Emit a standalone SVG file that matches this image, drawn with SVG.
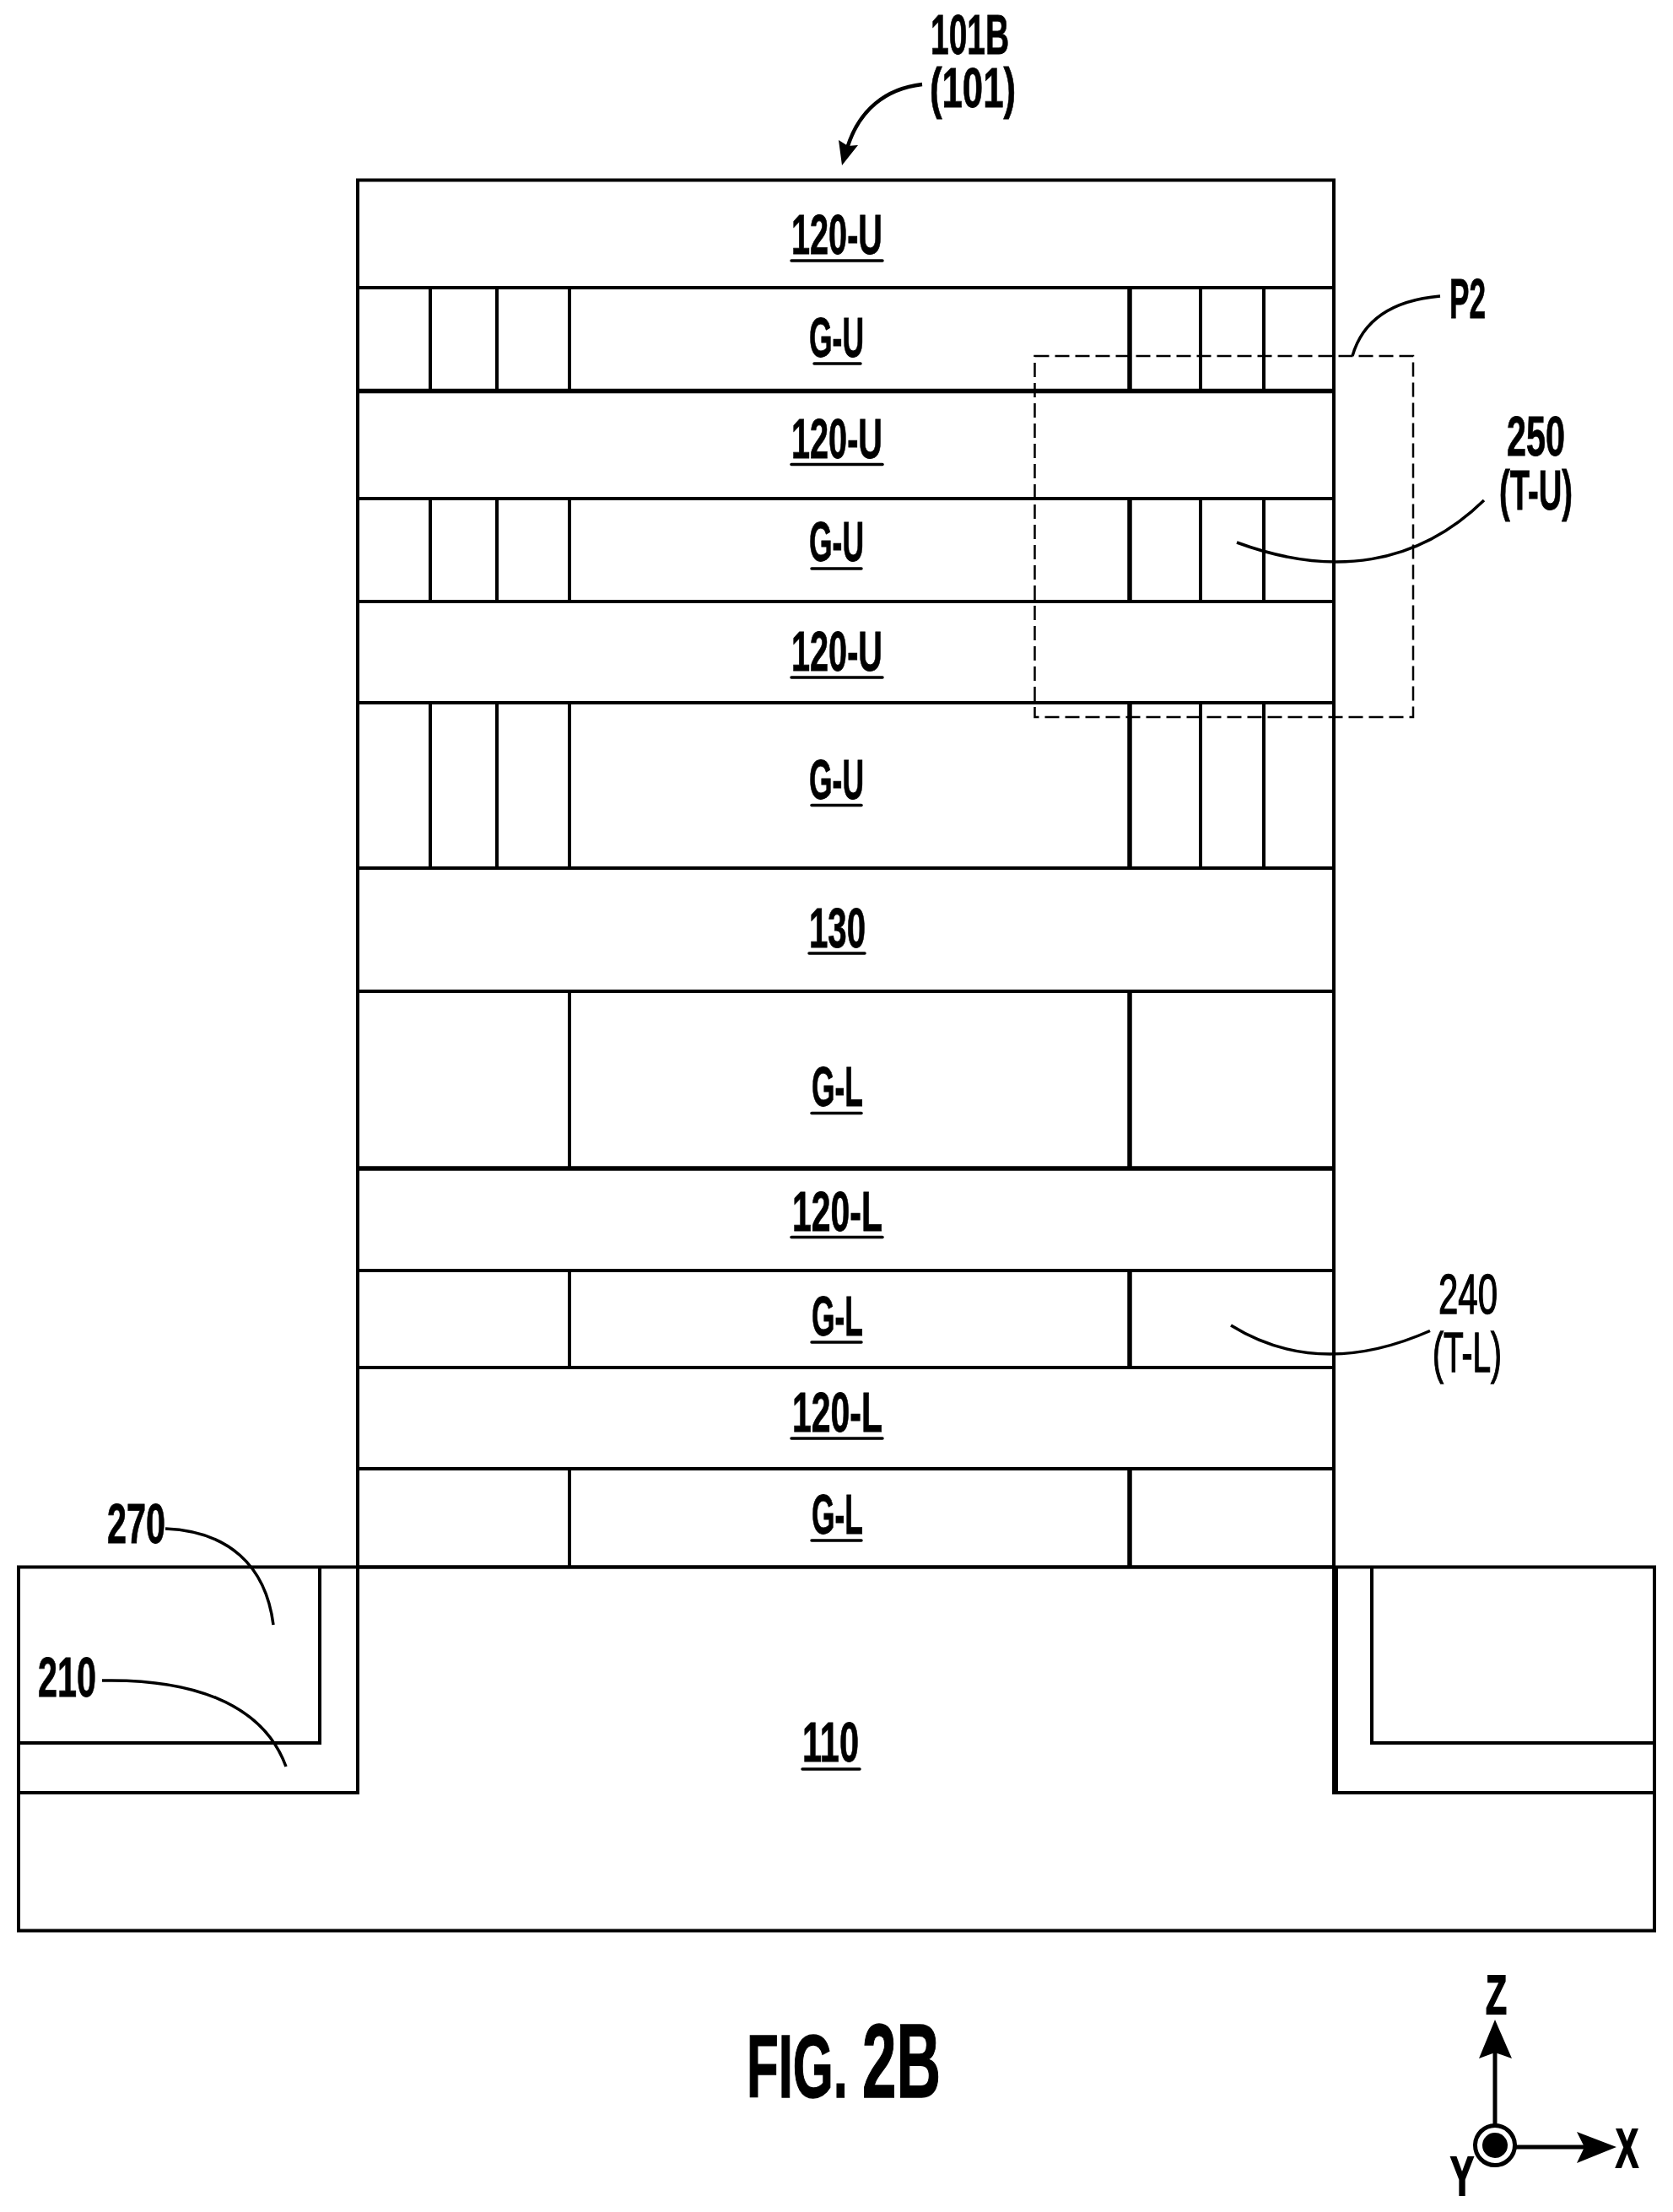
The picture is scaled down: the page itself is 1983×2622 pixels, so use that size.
<svg xmlns="http://www.w3.org/2000/svg" width="1983" height="2622" viewBox="0 0 1983 2622">
<style>
text{font-family:"Liberation Sans",Arial,sans-serif;font-weight:700;font-size:66px;fill:#000;stroke:#000;stroke-width:.8}
text.reg{font-weight:400;stroke-width:1.4}
text.ax{font-size:64px;stroke-width:2}
.ln{stroke:#000;stroke-width:4;fill:none}
.th{stroke:#000;stroke-width:5.5;fill:none}
.ul{stroke:#000;stroke-width:3.5;fill:none;stroke-linecap:round}
.lead{stroke:#000;stroke-width:3.5;fill:none}
.dash{stroke:#000;stroke-width:2.5;fill:none;stroke-dasharray:17 7}
</style>
<rect width="1983" height="2622" fill="#fff"/>
<g id="substrate">
<path class="ln" d="M22 1857.5H1961V2288.5H22Z"/>
<path class="ln" d="M22 2125H424V1857.5"/>
<path class="ln" d="M22 2066H379V1857.5"/>
<path class="ln" d="M1961 2125H1583"/>
<path class="ln" d="M1961 2066H1626V1857.5"/>
<path d="M1579 1857.5H1586V2127H1579Z" fill="#000"/>
<text x="951" y="2087.5" textLength="67" lengthAdjust="spacingAndGlyphs">110</text>
<path class="ul" d="M951 2097H1019"/>
</g>
<g id="stack">
<path class="ln" d="M424 213.5H1581V1857.5H424Z"/>
<path class="ln" d="M424 341H1581M424 591H1581M424 713H1581M424 833H1581M424 1029H1581M424 1175H1581M424 1506H1581M424 1621H1581M424 1741H1581"/>
<path class="th" d="M424 463.5H1581M424 1385H1581"/>
</g>
<g id="gates">
<path class="ln" d="M510 341V463M589 341V463M675 341V463M1423 341V463M1498 341V463"/>
<path class="ln" d="M510 591V713M589 591V713M675 591V713M1423 591V713M1498 591V713"/>
<path class="ln" d="M510 833V1029M589 833V1029M675 833V1029M1423 833V1029M1498 833V1029"/>
<path class="ln" d="M675 1175V1385M675 1506V1621M675 1741V1857.5"/>
<path class="th" d="M1339 341V463M1339 591V713M1339 833V1029M1339 1175V1385M1339 1506V1621M1339 1741V1857.5"/>
</g>
<g id="layer-labels">
<text x="938" y="300.5" textLength="108" lengthAdjust="spacingAndGlyphs">120-U</text><path class="ul" d="M938 309H1046"/>
<text x="959" y="423" textLength="65" lengthAdjust="spacingAndGlyphs">G-U</text><path class="ul" d="M965 431H1020"/>
<text x="938" y="542.5" textLength="108" lengthAdjust="spacingAndGlyphs">120-U</text><path class="ul" d="M938 550.5H1046"/>
<text x="959" y="665" textLength="65" lengthAdjust="spacingAndGlyphs">G-U</text><path class="ul" d="M962 674H1021"/>
<text x="938" y="795" textLength="108" lengthAdjust="spacingAndGlyphs">120-U</text><path class="ul" d="M938 803H1046"/>
<text x="959" y="946.5" textLength="65" lengthAdjust="spacingAndGlyphs">G-U</text><path class="ul" d="M962 954.5H1021"/>
<text x="959" y="1122.5" textLength="67" lengthAdjust="spacingAndGlyphs">130</text><path class="ul" d="M959 1130H1025"/>
<text x="962" y="1311" textLength="61" lengthAdjust="spacingAndGlyphs">G-L</text><path class="ul" d="M962 1319.5H1021"/>
<text x="939" y="1458.5" textLength="107" lengthAdjust="spacingAndGlyphs">120-L</text><path class="ul" d="M938 1466.5H1046"/>
<text x="962" y="1583" textLength="61" lengthAdjust="spacingAndGlyphs">G-L</text><path class="ul" d="M962 1591H1021"/>
<text x="939" y="1696.5" textLength="107" lengthAdjust="spacingAndGlyphs">120-L</text><path class="ul" d="M938 1705H1046"/>
<text x="962" y="1818" textLength="61" lengthAdjust="spacingAndGlyphs">G-L</text><path class="ul" d="M962 1826H1021"/>
</g>
<g id="region-p2">
<rect class="dash" x="1226.5" y="422" width="448.5" height="428"/>
</g>
<g id="callouts">
<text x="1103" y="64" textLength="93" lengthAdjust="spacingAndGlyphs">101B</text>
<text x="1102" y="127" textLength="102" lengthAdjust="spacingAndGlyphs">(101)</text>
<text x="1718" y="377" textLength="43" lengthAdjust="spacingAndGlyphs">P2</text>
<text x="1786" y="540" textLength="69" lengthAdjust="spacingAndGlyphs">250</text>
<text x="1777" y="604" textLength="87" lengthAdjust="spacingAndGlyphs">(T-U)</text>
<text class="reg" x="1705" y="1557" textLength="70" lengthAdjust="spacingAndGlyphs">240</text>
<text class="reg" x="1698" y="1626" textLength="82" lengthAdjust="spacingAndGlyphs">(T-L)</text>
<text x="127" y="1828.5" textLength="69" lengthAdjust="spacingAndGlyphs">270</text>
<text x="45" y="2011" textLength="69" lengthAdjust="spacingAndGlyphs">210</text>
<text x="885" y="2486" textLength="230" lengthAdjust="spacingAndGlyphs" style="font-size:106px;stroke-width:1.5">FIG. <tspan style="font-size:125px">2B</tspan></text>
</g>
<g id="connectors">
<path class="lead" style="stroke-width:4.5" d="M1093 100C1050 105 1018 130 1004 176"/>
<path d="M998 196L994 166L1005 173L1017 172Z" fill="#000"/>
<path class="lead" d="M1707 351C1650 356 1615 380 1603 422"/>
<path class="lead" d="M1466 643C1580 685 1680 670 1759 593"/>
<path class="lead" d="M1459 1571C1530 1615 1610 1615 1695 1577.5"/>
<path class="lead" d="M196 1812C270 1815 315 1855 324 1926"/>
<path class="lead" d="M121 1992C220 1990 310 2015 339 2094"/>
</g>
<g id="axes">
<path d="M1772 2518V2430" stroke="#000" stroke-width="5" fill="none"/>
<path d="M1772 2394L1753 2440L1772 2433L1792 2440Z" fill="#000"/>
<path d="M1797 2545H1880" stroke="#000" stroke-width="5" fill="none"/>
<path d="M1916 2545L1869 2527L1878 2545L1869 2564Z" fill="#000"/>
<circle cx="1772" cy="2543" r="23.5" fill="none" stroke="#000" stroke-width="5"/>
<circle cx="1772" cy="2543" r="15" fill="#000"/>
<text class="ax" x="1761" y="2387" textLength="25" lengthAdjust="spacingAndGlyphs">Z</text>
<text class="ax" x="1719" y="2602" textLength="28" lengthAdjust="spacingAndGlyphs">Y</text>
<text class="ax" x="1915" y="2569" textLength="27" lengthAdjust="spacingAndGlyphs">X</text>
</g>
</svg>
